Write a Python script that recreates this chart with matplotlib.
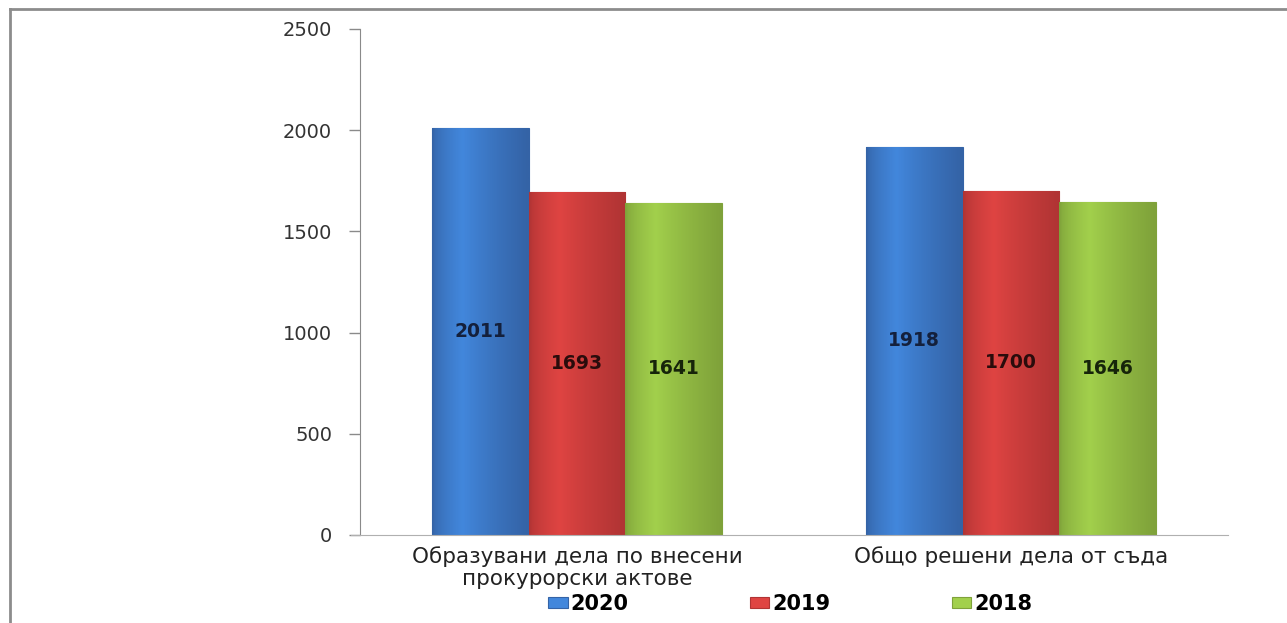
import numpy as np
import matplotlib
matplotlib.use("Agg")
import matplotlib.pyplot as plt
from matplotlib.colors import LinearSegmentedColormap
from matplotlib.lines import Line2D

# data
categories = ["Образувани дела по внесени\nпрокурорски актове", "Общо решени дела от съда"]
years = ["2020", "2019", "2018"]
values_2020 = [2011, 1918]
values_2019 = [1693, 1700]
values_2018 = [1641, 1646]
y_ticks = [0, 500, 1000, 1500, 2000, 2500]

series = [values_2020, values_2019, values_2018]
# (top colour, bottom colour, label colour)
styles = [
    ("#4287dc", "#3463a6", "#14203c"),
    ("#df4442", "#b03434", "#2a0c0c"),
    ("#a2d04c", "#7fa23a", "#16240a"),
]


def main():
    fig = plt.figure(figsize=(12.87, 6.23), dpi=100)
    ax = fig.add_axes([0.2797, 0.1413, 0.6744, 0.8122])

    x = np.arange(len(categories))
    width = 0.223

    handles = []
    for i, (vals, (top, bottom, lab)) in enumerate(zip(series, styles)):
        pos = x + (i - 1) * width
        bars = ax.bar(pos, vals, width, color=top, edgecolor=bottom, linewidth=0.8,
                      label=years[i], zorder=2)
        cmap = LinearSegmentedColormap.from_list("g%d" % i, [bottom, top, bottom])
        grad = np.linspace(0, 1, 64).reshape(1, -1)
        for b in bars:
            x0, y0 = b.get_x(), b.get_y()
            im = ax.imshow(grad ** 0.6, cmap=cmap, aspect="auto", zorder=2.5,
                           extent=(x0, x0 + b.get_width(), y0, y0 + b.get_height()))
            im.set_clip_path(b)
            ax.text(x0 + b.get_width() / 2, b.get_height() / 2, str(int(b.get_height())),
                    ha="center", va="center", fontsize=13.5, fontweight="bold",
                    color=lab, zorder=4)
        handles.append(bars)

    ax.set_xlim(-0.5, 1.5)
    ax.set_ylim(0, 2500)
    ax.set_yticks(y_ticks)
    ax.set_yticklabels([str(t) for t in y_ticks], fontsize=14, color="#333333")
    ax.set_xticks(x)
    ax.set_xticklabels(categories, fontsize=15.5, color="#222222",
                       linespacing=1.15)
    ax.tick_params(axis="x", length=0, pad=8)
    ax.tick_params(axis="y", length=8, width=1, color="#8a8a8a", pad=12)

    for side in ["top", "right"]:
        ax.spines[side].set_visible(False)
    ax.spines["left"].set_color("#8a8a8a")
    ax.spines["bottom"].set_color("#b0b0b0")
    ax.spines["bottom"].set_bounds(-0.52, 1.5)
    ax.set_facecolor("white")

    fig.legend(handles=handles, labels=years, loc="center", bbox_to_anchor=(0.614, 0.031),
               ncol=3, frameon=False, handlelength=0.95, handleheight=0.45,
               columnspacing=5.8, handletextpad=0.15,
               prop={"size": 15, "weight": "bold"})

    # outer frame
    fig.add_artist(Line2D([10 / 1287, 10 / 1287], [0, 1 - 9 / 623], transform=fig.transFigure,
                          color="#8c8c8c", linewidth=2))
    fig.add_artist(Line2D([10 / 1287, 1], [1 - 9 / 623, 1 - 9 / 623], transform=fig.transFigure,
                          color="#8c8c8c", linewidth=2))

    fig.savefig("out.png", dpi=100)


if __name__ == '__main__':
    main()
